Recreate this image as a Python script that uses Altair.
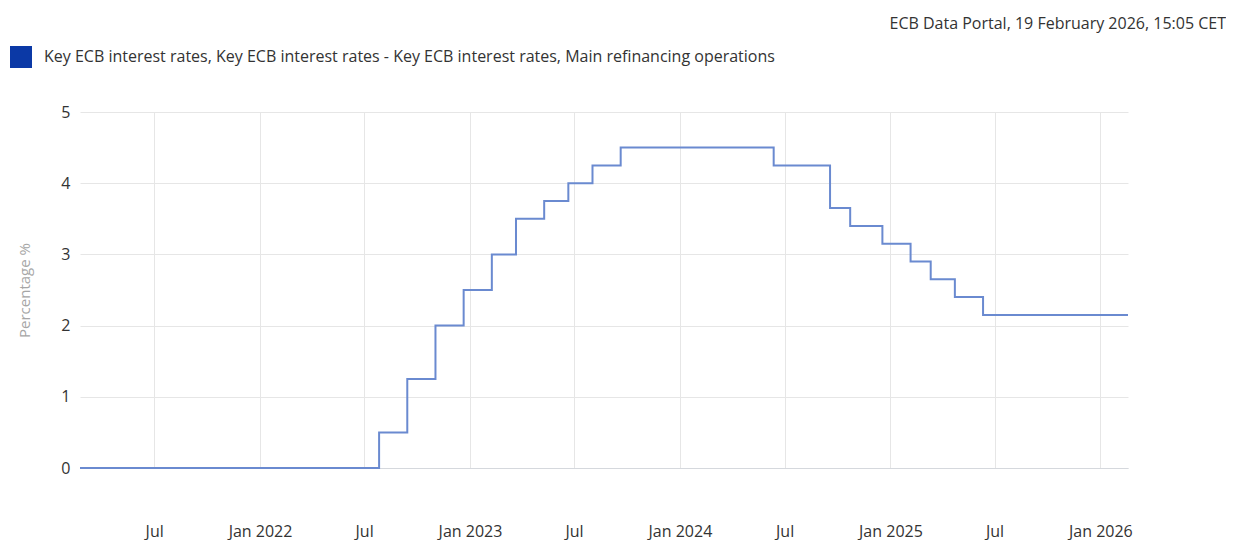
import altair as alt
import pandas as pd

# Main refinancing operations rate (%), step changes
dates = [
    "2021-02-22", "2022-07-27", "2022-09-14", "2022-11-02", "2022-12-21",
    "2023-02-08", "2023-03-22", "2023-05-10", "2023-06-21", "2023-08-02",
    "2023-09-20", "2024-06-12", "2024-09-18", "2024-10-23", "2024-12-18",
    "2025-02-05", "2025-03-12", "2025-04-23", "2025-06-11", "2026-02-18",
]
rates = [
    0.0, 0.50, 1.25, 2.00, 2.50,
    3.00, 3.50, 3.75, 4.00, 4.25,
    4.50, 4.25, 3.65, 3.40, 3.15,
    2.90, 2.65, 2.40, 2.15, 2.15,
]
series_name = "Key ECB interest rates, Key ECB interest rates - Key ECB interest rates, Main refinancing operations"
y_ticks = [0, 1, 2, 3, 4, 5]
x_domain = ["2021-02-22", "2026-02-18"]

df = pd.DataFrame({"date": dates, "rate": rates, "series": [series_name] * len(dates)})

FONT = "Open Sans"

x_enc = alt.X(
    "date:T",
    scale=alt.Scale(type="utc", domain=x_domain, nice=False),
    axis=alt.Axis(
        title=None,
        tickCount={"interval": "month", "step": 6},
        labelExpr="utcFormat(datum.value, '%m') == '01' ? utcFormat(datum.value, 'Jan %Y') : utcFormat(datum.value, '%b')",
        labelPadding=55,
        labelFontSize=16,
        labelColor="#333333",
        labelFont=FONT,
        ticks=False,
        domain=True,
        domainColor="#d5d8dd",
        grid=True,
        gridColor="#e6e6e6",
        labelFlush=False,
    ),
)
y_enc = alt.Y(
    "rate:Q",
    scale=alt.Scale(domain=[0, 5], nice=False),
    axis=alt.Axis(
        title="Percentage %",
        values=y_ticks,
        format="d",
        titleColor="#a6a6a6",
        titleFontSize=15,
        titleFontWeight="normal",
        titleFont=FONT,
        titlePadding=28,
        labelFontSize=16,
        labelColor="#333333",
        labelFont=FONT,
        labelPadding=10,
        ticks=False,
        domain=False,
        grid=True,
        gridColor="#e6e6e6",
    ),
)

base = alt.Chart(df)

line = base.mark_line(
    interpolate="step-after", strokeWidth=2, color="#6a8ad0"
).encode(x=x_enc, y=y_enc)

legend_layer = base.mark_square(opacity=0, size=1).encode(
    x="date:T",
    y="rate:Q",
    color=alt.Color(
        "series:N",
        scale=alt.Scale(range=["#0b39a6"]),
        legend=alt.Legend(
            title=None,
            orient="none",
            legendX=-70,
            legendY=-66,
            symbolType="square",
            symbolSize=484,
            symbolStrokeWidth=0,
            symbolOpacity=1,
            symbolFillColor="#0b39a6",
            labelFontSize=16,
            labelColor="#333333",
            labelFont=FONT,
            labelLimit=1100,
            labelOffset=12,
        ),
    ),
)

chart = alt.layer(line, legend_layer).properties(
    width=1048,
    height=356,
    title=alt.TitleParams(
        "ECB Data Portal, 19 February 2026, 15:05 CET",
        anchor="end",
        frame="group",
        dx=98,
        offset=14,
        fontSize=16,
        fontWeight="normal",
        font=FONT,
        color="#333333",
    ),
    autosize=alt.AutoSizeParams(type="none"),
    padding={"left": 72, "top": 104, "right": 98, "bottom": 72},
).configure_view(stroke=None)

chart.save("out.html", embed_options={"renderer": "svg", "actions": False})
